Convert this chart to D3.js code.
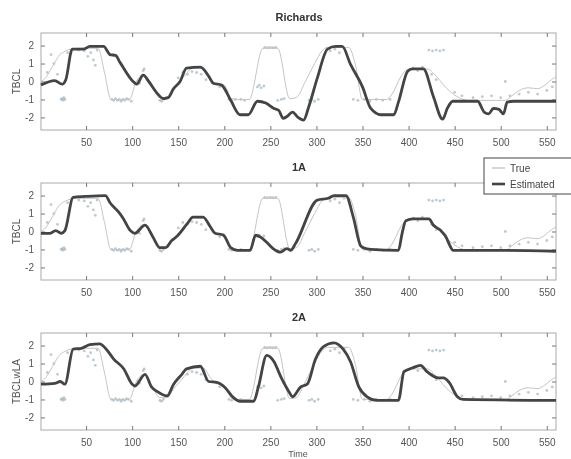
<!DOCTYPE html>
<html>
<head>
<meta charset="utf-8">
<script src="https://cdn.jsdelivr.net/npm/d3@7"></script>
<style>
body { margin: 0; background: #fff; }
svg { display: block; filter: blur(0.35px); }
text { font-family: "Liberation Sans", Arial, sans-serif; }
</style>
</head>
<body>
<div id="chart"></div>
<script>
var xTicks = [50, 100, 150, 200, 250, 300, 350, 400, 450, 500, 550];
var yTicks = [2, 1, 0, -1, -2];
var titles = ['Richards', '1A', '2A'];
var yLabels = ['TBCL', 'TBCL', 'TBCLwLA'];

// true signal, same in every panel
var trueSeries = [[1,0],[6,0.2],[11,0.6],[16,1.05],[20,1.4],[26,1.65],[33,1.8],[40,1.85],[63,1.85],[70,0.5],[77,-1.0],
	[97,-1.0],[104,-0.05],[113,0.4],[122,-0.3],[130,-0.9],[138,-0.9],[145,-0.4],[152,0],[160,0.5],[165,0.75],[177,0.75],
	[185,0.2],[190,-0.1],[200,-0.2],[208,-0.95],[215,-1.0],[227,-1.0],[242,1.85],[258,1.85],[271,-0.95],[278,-0.9],[288,0],
	[298,1.0],[306,1.7],[312,1.9],[335,1.9],[342,1.0],[350,-1.0],[376,-1.0],[382,-0.7],[392,0.3],[398,0.65],[402,0.7],
	[420,0.7],[430,0.3],[438,-0.2],[453,-0.85],[465,-1.05],[505,-1.05],[512,-0.8],[520,-0.5],[530,-0.35],[540,-0.4],
	[548,-0.2],[555,0.1],[560,0.25]];

var richardsEst = [[1,-0.2],[16,0.05],[24,-0.15],[28,0.1],[35,1.8],[47,1.8],[54,1.95],[69,1.95],[76,1.5],[82,1.45],[87,1.05],
	[101,0],[105,-0.15],[112,0.35],[118,0],[127,-0.65],[134,-0.95],[139,-0.9],[145,-0.4],[152,0],[159,0.75],[174,0.8],
	[183,0.3],[188,-0.1],[197,-0.2],[207,-1.05],[217,-1.85],[226,-1.85],[236,-1.1],[245,-1.2],[254,-1.5],[259,-1.6],
	[264,-2.05],[268,-1.95],[274,-1.7],[280,-2.0],[286,-2.15],[292,-1.35],[301,0.2],[312,1.8],[321,1.95],[328,1.95],
	[337,0.95],[350,-0.3],[359,-1.5],[370,-1.85],[384,-1.85],[389,-1.15],[399,0.57],[404,0.7],[416,0.7],[427,-0.85],
	[437,-2.1],[442,-1.5],[448,-1.1],[475,-1.1],[482,-1.7],[487,-1.8],[492,-1.5],[498,-1.55],[503,-1.8],[507,-1.15],
	[514,-1.1],[560,-1.1]];

var oneAEst = [[1,-0.1],[11,-0.1],[17,0.05],[23,-0.1],[27,0.05],[36,1.9],[49,1.95],[71,2.0],[76,1.6],[85,1.1],[90,0.75],
	[98,0.05],[103,-0.1],[114,0.35],[123,-0.35],[130,-0.9],[136,-0.9],[143,-0.5],[149,-0.25],[160,0.45],[166,0.8],[177,0.8],
	[185,0.25],[190,-0.1],[199,-0.2],[207,-0.9],[214,-1.05],[228,-1.05],[234,-0.2],[239,-0.3],[246,-0.6],[253,-0.95],
	[261,-1.15],[268,-0.95],[272,-1.05],[277,-0.7],[301,1.75],[313,1.85],[319,2.0],[332,2.0],[340,0.8],[348,-0.8],
	[351,-0.9],[359,-1.0],[389,-1.05],[393,-0.1],[397,0.6],[405,0.7],[422,0.7],[427,0.35],[435,0.05],[440,-0.25],
	[446,-0.9],[448,-1.05],[500,-1.05],[560,-1.1]];

var twoAEst = [[1,-0.15],[16,-0.1],[22,0],[27,-0.15],[36,1.8],[45,1.85],[54,2.05],[65,2.1],[71,1.85],[80,1.25],[91,0.7],
	[100,-0.15],[103,-0.25],[114,0.4],[121,-0.3],[127,-0.55],[138,-0.8],[145,-0.15],[154,0.4],[159,0.7],[174,0.85],[183,0],
	[192,-0.05],[201,-0.35],[210,-0.9],[217,-1.1],[232,-1.1],[237,-0.3],[246,1.45],[254,1.1],[261,0.3],[270,-0.55],
	[274,-0.85],[283,-0.3],[290,-0.15],[299,1.25],[308,1.95],[319,2.15],[329,1.8],[337,1.1],[346,-0.3],[355,-0.85],
	[366,-1.05],[389,-1.05],[395,0.55],[404,0.75],[413,0.9],[420,0.55],[432,0.2],[438,0.2],[444,-0.05],[453,-0.85],
	[459,-1.0],[560,-1.05]];

// noisy observations scattered round the true signal
var observations = [[8,0.5],[12,1.5],[15,1.0],[19,0.4],[30,1.6],[23,-1.0],[24,-0.95],[25,-1.05],[26,-0.9],[27,-1.0],
	[42,1.75],[48,1.7],[52,1.4],[55,1.6],[58,1.2],[60,0.9],[62,1.75],[78,-1.0],[80,-1.05],[82,-0.95],[84,-1.05],[86,-1.0],
	[88,-1.1],[90,-1.0],[92,-1.05],[94,-0.95],[96,-1.0],[99,-1.1],[106,0],[108,-0.1],[112,0.6],[113,0.7],[130,-1.05],
	[132,-1.1],[134,-1.0],[150,0.2],[155,0.5],[160,0.4],[165,0.55],[170,0.5],[175,0.4],[180,0.1],[195,-0.3],[205,-1.0],
	[208,-1.05],[212,-1.0],[218,-1.0],[222,-1.05],[236,-0.3],[238,-0.2],[240,-0.35],[243,-0.25],[244,1.9],[247,1.88],
	[250,1.9],[253,1.88],[256,1.9],[258,-1.05],[262,-1.0],[265,-0.95],[292,-1.05],[295,-1.0],[298,-1.1],[302,-1.0],
	[315,1.7],[320,1.8],[325,1.6],[330,1.85],[340,-1.0],[345,-1.05],[352,-1.0],[358,-1.1],[365,-1.0],[372,-1.05],
	[380,-1.0],[405,0.75],[410,0.6],[415,0.8],[425,0.4],[430,0.1],[422,1.75],[426,1.7],[430,1.75],[434,1.7],[438,1.75],
	[450,-0.6],[458,-0.8],[470,-0.9],[480,-0.85],[490,-0.8],[500,-0.9],[505,0],[510,-0.8],[520,-0.7],[530,-0.6],
	[540,-0.7],[550,-0.5],[556,-0.3]];

var estimates = [richardsEst, oneAEst, twoAEst];
var panelTops = [33, 183, 333], panelHeight = 97;
var left = 40, right = 556;

var svg = d3.select("#chart").append("svg")
	.attr("width", 571)
	.attr("height", 459);

var x = d3.scaleLinear().domain([0, 560]).range([left, right]);

titles.forEach(function(title, i) {
	var top = panelTops[i], bottom = top + panelHeight;
	var y = d3.scaleLinear().domain([-2.7, 2.7]).range([bottom, top]);
	var g = svg.append("g");

	g.append("rect")
		.attr("x", left + 1).attr("y", top)
		.attr("width", right - left - 1).attr("height", panelHeight)
		.attr("fill", "none").attr("stroke", "#aaa").attr("stroke-width", 1);

	// ticks inside, on all four sides
	g.append("g").attr("transform", "translate(0," + bottom + ")")
		.call(d3.axisBottom(x).tickValues(xTicks).tickSize(-4).tickPadding(9))
		.call(function(a) { a.select(".domain").remove(); });
	g.append("g").attr("transform", "translate(0," + top + ")")
		.call(d3.axisTop(x).tickValues(xTicks).tickSize(-4).tickFormat(""))
		.call(function(a) { a.select(".domain").remove(); });
	g.append("g").attr("transform", "translate(" + (left + 1) + ",0)")
		.call(d3.axisLeft(y).tickValues(yTicks).tickSize(-4).tickPadding(7)
			.tickFormat(function(d) { return String(d); }))
		.call(function(a) { a.select(".domain").remove(); });
	g.append("g").attr("transform", "translate(" + right + ",0)")
		.call(d3.axisRight(y).tickValues(yTicks).tickSize(-4).tickFormat(""))
		.call(function(a) { a.select(".domain").remove(); });

	g.selectAll(".tick line").attr("stroke", "#777");
	g.selectAll(".tick text").attr("fill", "#555").style("font-size", "10px");

	var line = d3.line()
		.x(function(d) { return x(d[0]); })
		.y(function(d) { return y(d[1]); })
		.curve(d3.curveMonotoneX);

	g.selectAll(".obs")
		.data(observations)
		.enter().append("circle")
		.attr("class", "obs")
		.attr("cx", function(d) { return x(d[0]); })
		.attr("cy", function(d) { return y(d[1]); })
		.attr("r", 1.4)
		.attr("fill", "#9fb4c0")
		.attr("opacity", 0.7);

	g.append("path").datum(trueSeries)
		.attr("d", line)
		.attr("fill", "none").attr("stroke", "#c4c4c4").attr("stroke-width", 1);

	g.append("path").datum(estimates[i])
		.attr("d", line)
		.attr("fill", "none").attr("stroke", "#444").attr("stroke-width", 2.8)
		.attr("stroke-linejoin", "round");

	g.append("text")
		.attr("x", 299).attr("y", top - 12)
		.attr("text-anchor", "middle")
		.attr("fill", "#333")
		.style("font-size", "11px").style("font-weight", "bold")
		.text(title);

	g.append("text")
		.attr("transform", "translate(20," + y(0) + ") rotate(-90)")
		.attr("text-anchor", "middle")
		.attr("fill", "#555")
		.style("font-size", "10px")
		.text(yLabels[i]);
});

svg.append("text")
	.attr("x", 298).attr("y", 457)
	.attr("text-anchor", "middle")
	.attr("fill", "#555")
	.style("font-size", "9px")
	.text("Time");

// legend, runs off the right edge like the original
var legend = svg.append("g");
legend.append("rect")
	.attr("x", 484).attr("y", 158).attr("width", 100).attr("height", 36)
	.attr("fill", "#fff").attr("stroke", "#444").attr("stroke-width", 1);
[["True", "#bbb", 1.2], ["Estimated", "#444", 2.6]].forEach(function(d, i) {
	var ly = 168 + i * 16;
	legend.append("line")
		.attr("x1", 492).attr("x2", 505).attr("y1", ly).attr("y2", ly)
		.attr("stroke", d[1]).attr("stroke-width", d[2]);
	legend.append("text")
		.attr("x", 510).attr("y", ly + 3.5)
		.attr("fill", "#444")
		.style("font-size", "10px")
		.text(d[0]);
});
</script>
</body>
</html>
